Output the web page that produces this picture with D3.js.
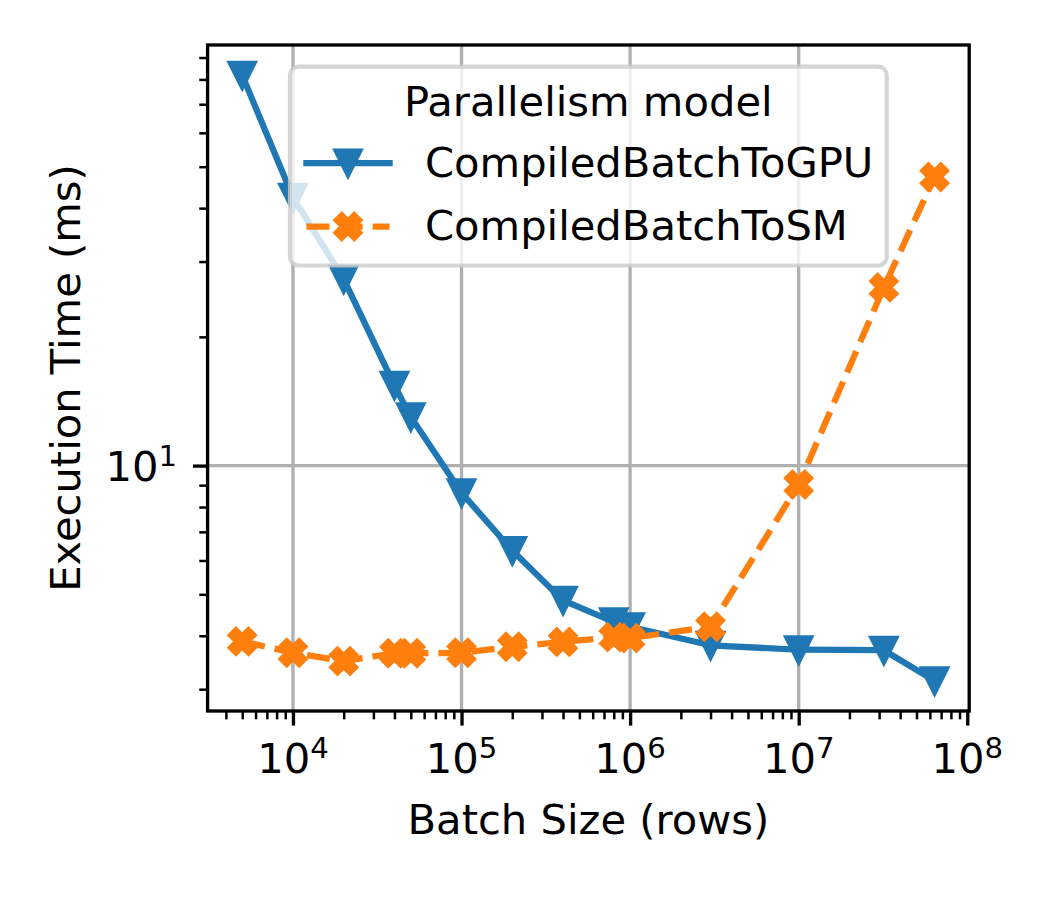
<!DOCTYPE html>
<html>
<head>
<meta charset="utf-8">
<script src="https://cdn.jsdelivr.net/npm/d3@7"></script>
<style>
  html, body { margin: 0; padding: 0; background: #fff; }
  svg text { font-family: "DejaVu Sans", sans-serif; fill: #000; }
</style>
</head>
<body>
<svg id="chart" width="1050" height="900"></svg>
<script>
// --- data ---
const batchSizes = [5e3, 1e4, 2e4, 4e4, 5e4, 1e5, 2e5, 4e5, 8e5, 1e6, 3e6, 1e7, 3.2e7, 6.4e7];
const gpuTimes = [81.8, 42.4, 27.3, 15.4, 13.0, 8.64, 6.33, 4.84, 4.31, 4.20, 3.80, 3.71, 3.70, 3.14];
const smTimes = [3.88, 3.65, 3.49, 3.64, 3.64, 3.65, 3.77, 3.87, 3.97, 3.95, 4.20, 9.03, 26.1, 47.3];
const seriesNames = ["CompiledBatchToGPU", "CompiledBatchToSM"];
const seriesColors = ["#1f77b4", "#ff7f0e"];
const xTickExponents = [4, 5, 6, 7, 8];
const yTickExponents = [1];
const legendTitle = "Parallelism model";
const xLabel = "Batch Size (rows)";
const yLabel = "Execution Time (ms)";

// --- layout (300 dpi, so 1pt = 4.1667px) ---
const PT = 300 / 72;
const FONT = 10 * PT;
const plot = { left: 207.6, top: 45, right: 969.2, bottom: 711 };

const svg = d3.select("#chart");

// matplotlib-style 5% margins in log space
function logPad(values) {
  const lo = Math.log10(d3.min(values)), hi = Math.log10(d3.max(values));
  const m = (hi - lo) * 0.05;
  return [10 ** (lo - m), 10 ** (hi + m)];
}

const x = d3.scaleLog().domain(logPad(batchSizes)).range([plot.left, plot.right]);
const y = d3.scaleLog().domain(logPad(gpuTimes.concat(smTimes))).range([plot.bottom, plot.top]);

function minorTicks(scale) {
  const [a, b] = scale.domain();
  const out = [];
  for (let k = Math.floor(Math.log10(a)); k <= Math.ceil(Math.log10(b)); k++) {
    for (let m = 2; m <= 9; m++) {
      const v = m * 10 ** k;
      if (v >= a && v <= b) out.push(v);
    }
  }
  return out;
}

const xMajor = xTickExponents.map(e => 10 ** e).filter(v => v >= x.domain()[0] && v <= x.domain()[1] * 1.0001);
const yMajor = yTickExponents.map(e => 10 ** e);

// --- grid ---
const grid = svg.append("g").attr("stroke", "#b0b0b0").attr("stroke-width", 0.8 * PT);
grid.selectAll("line.gx").data(xMajor.filter(v => x(v) < plot.right - 2)).join("line")
  .attr("class", "gx")
  .attr("x1", d => x(d)).attr("x2", d => x(d))
  .attr("y1", plot.top).attr("y2", plot.bottom);
grid.selectAll("line.gy").data(yMajor).join("line")
  .attr("class", "gy")
  .attr("x1", plot.left).attr("x2", plot.right)
  .attr("y1", d => y(d)).attr("y2", d => y(d));

// --- series ---
const series = seriesNames.map((name, i) => ({
  name,
  color: seriesColors[i],
  dashed: i === 1,
  marker: i === 0 ? "tri" : "x",
  values: batchSizes.map((s, j) => ({ size: s, t: [gpuTimes, smTimes][i][j] }))
}));

const MS = 6 * PT; // marker size
function markerPath(kind) {
  const h = MS / 2;
  if (kind === "tri") return `M0,${h}L${-h},${-h}L${h},${-h}Z`;
  const u = MS / 4;
  const pts = [[-1, -2], [0, -1], [1, -2], [2, -1], [1, 0], [2, 1], [1, 2], [0, 1], [-1, 2], [-2, 1], [-1, 0], [-2, -1]];
  return "M" + pts.map(p => `${p[0] * u},${p[1] * u}`).join("L") + "Z";
}

const line = d3.line().x(d => x(d.size)).y(d => y(d.t));

series.forEach(s => {
  const g = svg.append("g");
  g.append("path")
    .datum(s.values)
    .attr("d", line)
    .attr("fill", "none")
    .attr("stroke", s.color)
    .attr("stroke-width", 1.5 * PT)
    .attr("stroke-linejoin", "round")
    .attr("stroke-linecap", s.dashed ? "butt" : "square")
    .attr("stroke-dasharray", s.dashed ? `${3.7 * 1.5 * PT},${1.6 * 1.5 * PT}` : null);
  g.selectAll("path.mk").data(s.values).join("path")
    .attr("class", "mk")
    .attr("d", markerPath(s.marker))
    .attr("transform", d => `translate(${x(d.size)},${y(d.t)})`)
    .attr("fill", s.color)
    .attr("stroke", s.color)
    .attr("stroke-width", 1 * PT)
    .attr("stroke-linejoin", "miter");
});

// --- spines ---
svg.append("rect")
  .attr("x", plot.left).attr("y", plot.top)
  .attr("width", plot.right - plot.left).attr("height", plot.bottom - plot.top)
  .attr("fill", "none").attr("stroke", "#000").attr("stroke-width", 0.8 * PT);

// --- ticks ---
function styleAxis(g, width) {
  g.select(".domain").remove();
  g.selectAll(".tick line").attr("stroke", "#000").attr("stroke-width", width);
  g.selectAll(".tick text").remove();
}

svg.append("g").attr("transform", `translate(0,${plot.bottom})`)
  .call(d3.axisBottom(x).tickValues(minorTicks(x)).tickSize(2 * PT).tickFormat(""))
  .call(g => styleAxis(g, 0.6 * PT));
svg.append("g").attr("transform", `translate(0,${plot.bottom})`)
  .call(d3.axisBottom(x).tickValues(xMajor).tickSize(3.5 * PT).tickFormat(""))
  .call(g => styleAxis(g, 0.8 * PT));
svg.append("g").attr("transform", `translate(${plot.left},0)`)
  .call(d3.axisLeft(y).tickValues(minorTicks(y)).tickSize(2 * PT).tickFormat(""))
  .call(g => styleAxis(g, 0.6 * PT));
svg.append("g").attr("transform", `translate(${plot.left},0)`)
  .call(d3.axisLeft(y).tickValues(yMajor).tickSize(3.5 * PT).tickFormat(""))
  .call(g => styleAxis(g, 0.8 * PT));

// tick labels as 10^k with superscript
function powLabel(sel) {
  sel.append("tspan").text("10");
  sel.append("tspan").attr("dy", -15).attr("font-size", FONT * 0.7).text(d => Math.round(Math.log10(d)));
}
svg.append("g").selectAll("text").data(xMajor).join("text")
  .attr("x", d => x(d))
  .attr("y", plot.bottom + 62.3)
  .attr("text-anchor", "middle")
  .attr("font-size", FONT)
  .call(powLabel);
svg.append("g").selectAll("text").data(yMajor).join("text")
  .attr("x", plot.left - 7 * PT - 1.4)
  .attr("y", d => y(d) + 15)
  .attr("text-anchor", "end")
  .attr("font-size", FONT)
  .call(powLabel);

// axis labels
svg.append("text")
  .attr("x", (plot.left + plot.right) / 2).attr("y", 834)
  .attr("text-anchor", "middle").attr("font-size", FONT)
  .text(xLabel);
svg.append("text")
  .attr("transform", `translate(80,${(plot.top + plot.bottom) / 2}) rotate(-90)`)
  .attr("text-anchor", "middle").attr("font-size", FONT)
  .text(yLabel);

// --- legend ---
const lg = svg.append("g");
lg.append("rect")
  .attr("x", 290).attr("y", 66.7).attr("width", 596.7).attr("height", 198.8)
  .attr("rx", 0.2 * FONT).attr("ry", 0.2 * FONT)
  .attr("fill", "#fff").attr("fill-opacity", 0.8)
  .attr("stroke", "#cccccc").attr("stroke-opacity", 0.8).attr("stroke-width", 1 * PT);
lg.append("text")
  .attr("x", 588.3).attr("y", 115.7)
  .attr("text-anchor", "middle").attr("font-size", FONT)
  .text(legendTitle);

const rows = lg.selectAll("g.row").data(series).join("g")
  .attr("class", "row")
  .attr("transform", (d, i) => `translate(0,${163 + i * 63.5})`);
rows.append("line")
  .attr("x1", 306.4).attr("x2", 389.6).attr("y1", 0).attr("y2", 0)
  .attr("stroke", d => d.color)
  .attr("stroke-width", 1.5 * PT)
  .attr("stroke-linecap", d => d.dashed ? "butt" : "square")
  .attr("stroke-dasharray", d => d.dashed ? `${3.7 * 1.5 * PT},${1.6 * 1.5 * PT}` : null);
rows.append("path")
  .attr("d", d => markerPath(d.marker))
  .attr("transform", "translate(348,0)")
  .attr("fill", d => d.color)
  .attr("stroke", d => d.color)
  .attr("stroke-width", 1 * PT);
rows.append("text")
  .attr("x", 425).attr("y", 13.7)
  .attr("font-size", FONT)
  .text(d => d.name);
</script>
</body>
</html>
